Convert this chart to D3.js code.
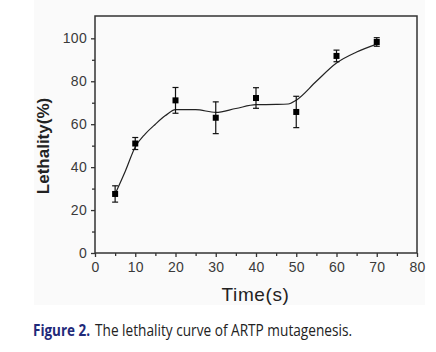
<!DOCTYPE html>
<html>
<head>
<meta charset="utf-8">
<script src="https://cdn.jsdelivr.net/npm/d3@7"></script>
<style>
  body { margin: 0; background: #fff; }
  svg { display: block; }
</style>
</head>
<body>
<svg id="chart" width="436" height="352"></svg>
<script>
// measured points (time, lethality, error)
var times = [5, 10, 20, 30, 40, 50, 60, 70];
var lethality = [27.5, 51, 71.1, 63, 72.2, 65.7, 91.8, 98.3];
var errors = [3.8, 2.8, 6, 7.4, 4.8, 7.3, 2.7, 2];

// fitted curve
var curveX = [5, 7.5, 10, 12.5, 15, 17.5, 20, 25, 30, 35, 40, 45, 48, 50, 55, 60, 65, 70];
var curveY = [27.5, 38, 49.4, 55.5, 60, 64, 66.8, 66.8, 65.5, 67.3, 69.1, 69.2, 69.4, 71.2, 80, 88.5, 93.6, 97.3];

var xTicks = [0, 10, 20, 30, 40, 50, 60, 70, 80];
var yTicks = [0, 20, 40, 60, 80, 100];

var svg = d3.select('#chart');
var pL = 95, pR = 417, pT = 16, pB = 253;

svg.append('rect').attr('x', 34).attr('y', 0).attr('width', 391).attr('height', 305)
  .style('fill', '#fafafa');

var x = d3.scaleLinear().domain([0, 80]).range([pL, pR]);
var y = d3.scaleLinear().domain([0, 110.4]).range([pB, pT]);

var axisColor = '#333';
var tickFont = '14px "Liberation Sans", Arial, sans-serif';

// x axis
svg.append('g').attr('transform', 'translate(0,' + pB + ')')
  .call(d3.axisBottom(x).tickValues(xTicks).tickSize(4).tickPadding(5).tickFormat(d3.format('d')));
svg.append('g').attr('transform', 'translate(0,' + pB + ')')
  .call(d3.axisBottom(x).tickValues(d3.range(5, 80, 10)).tickSize(3).tickFormat(''));

// y axis
svg.append('g').attr('transform', 'translate(' + pL + ',0)')
  .call(d3.axisLeft(y).tickValues(yTicks).tickSize(4).tickPadding(4).tickFormat(d3.format('d')));
svg.append('g').attr('transform', 'translate(' + pL + ',0)')
  .call(d3.axisLeft(y).tickValues(d3.range(10, 110, 20)).tickSize(3).tickFormat(''));

svg.selectAll('.domain').remove();
svg.selectAll('.tick line').style('stroke', axisColor).style('stroke-width', 1.3);
svg.selectAll('.tick text').style('font', tickFont).style('fill', '#3a3a3a').style('letter-spacing', '0.3px');

// frame
svg.append('rect').attr('x', pL).attr('y', pT)
  .attr('width', pR - pL).attr('height', pB - pT)
  .style('fill', 'none').style('stroke', axisColor).style('stroke-width', 1.5);

// fitted curve
var curvePts = curveX.map(function (d, i) { return [d, curveY[i]]; });
var line = d3.line()
  .x(function (d) { return x(d[0]); })
  .y(function (d) { return y(d[1]); })
  .curve(d3.curveMonotoneX);
svg.append('path').datum(curvePts).attr('d', line)
  .style('fill', 'none').style('stroke', '#222').style('stroke-width', 1.2);

// error bars
var pts = times.map(function (t, i) { return { t: t, v: lethality[i], e: errors[i] }; });
var eb = svg.append('g').style('stroke', '#111').style('stroke-width', 1.2);
pts.forEach(function (d) {
  var cx = x(d.t);
  eb.append('line').attr('x1', cx).attr('x2', cx).attr('y1', y(d.v + d.e)).attr('y2', y(d.v - d.e));
  eb.append('line').attr('x1', cx - 3).attr('x2', cx + 3).attr('y1', y(d.v + d.e)).attr('y2', y(d.v + d.e));
  eb.append('line').attr('x1', cx - 3).attr('x2', cx + 3).attr('y1', y(d.v - d.e)).attr('y2', y(d.v - d.e));
});

svg.append('g').selectAll('rect').data(pts).enter().append('rect')
  .attr('x', function (d) { return x(d.t) - 3; })
  .attr('y', function (d) { return y(d.v) - 3; })
  .attr('width', 6).attr('height', 6)
  .style('fill', '#000');

// axis titles
svg.append('text').attr('x', 255.5).attr('y', 300.5).attr('text-anchor', 'middle')
  .style('font', '19px "Liberation Sans", Arial, sans-serif').style('fill', '#222')
  .style('letter-spacing', '0.6px')
  .text('Time(s)');

svg.append('text').attr('transform', 'translate(49,146) rotate(-90)').attr('text-anchor', 'middle')
  .style('font', 'bold 17px "Liberation Sans", Arial, sans-serif').style('fill', '#222')
  .text('Lethality(%)');

// caption, two pieces
svg.append('text').attr('x', 33).attr('y', 336)
  .attr('textLength', 57).attr('lengthAdjust', 'spacingAndGlyphs')
  .style('font', 'bold 15.5px "Open Sans", "Noto Sans", sans-serif').style('fill', '#1f2a7a')
  .text('Figure 2.');
svg.append('text').attr('x', 95).attr('y', 336)
  .attr('textLength', 257).attr('lengthAdjust', 'spacingAndGlyphs')
  .style('font', '15.5px "Open Sans", "Noto Sans", sans-serif').style('fill', '#222')
  .text('The lethality curve of ARTP mutagenesis.');
</script>
</body>
</html>
